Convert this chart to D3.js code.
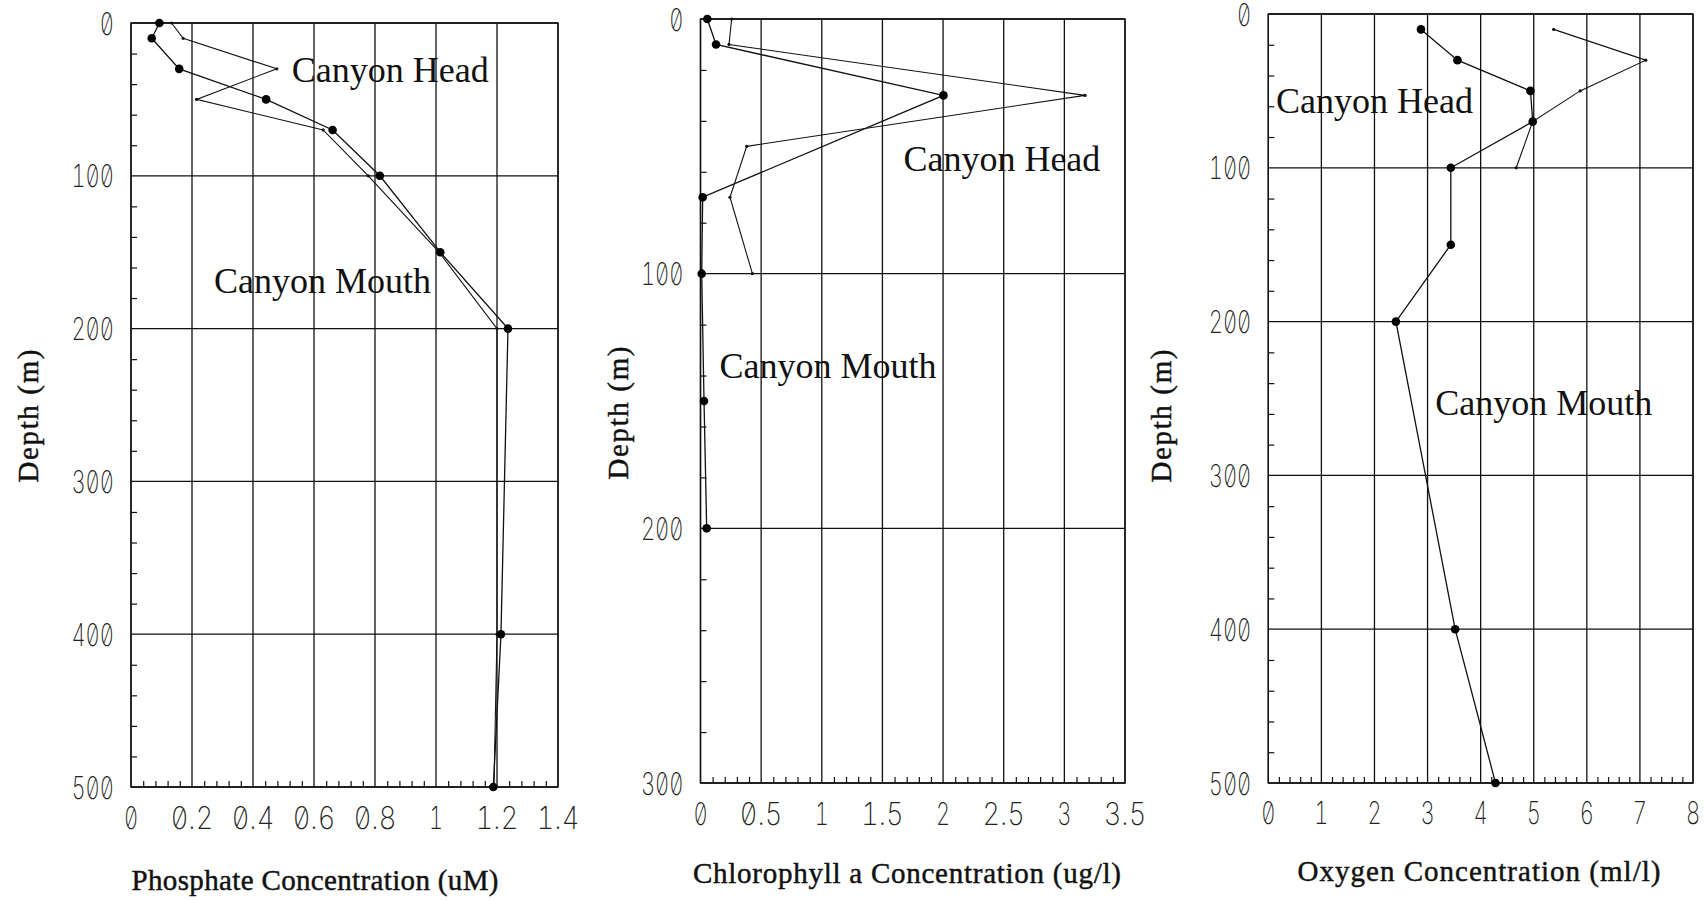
<!DOCTYPE html>
<html>
<head>
<meta charset="utf-8">
<script src="https://cdn.jsdelivr.net/npm/d3@7"></script>
<style>
  html, body { margin: 0; padding: 0; background: #fff; }
  svg { display: block; }
  .tick-label { font-family: Inter, "DejaVu Sans Mono", monospace; font-weight: 200; font-size: 31px; fill: #222;
                font-feature-settings: "zero" 1, "tnum" 1; }
  .axis-title { font-family: "Liberation Serif", "Times New Roman", serif; font-size: 29px; fill: #111;
                stroke: #111; stroke-width: 0.45px; }
  .station { font-family: "Liberation Serif", "Times New Roman", serif; font-size: 36px; fill: #111; }
</style>
</head>
<body>
<svg id="chart" width="1705" height="900"></svg>
<script>
// Phosphate profiles (uM) against depth (m)
const phosMouthDepth = [0, 10, 30, 50, 70, 100, 150, 200, 400, 500];
const phosMouth      = [0.093, 0.068, 0.158, 0.443, 0.661, 0.816, 1.014, 1.236, 1.213, 1.188];
const phosHeadDepth  = [0, 10, 30, 50, 70, 100, 150, 200, 400, 500];
const phosHead       = [0.133, 0.171, 0.478, 0.215, 0.630, 0.778, 1.010, 1.200, 1.200, 1.190];

// Chlorophyll a profiles (ug/l)
const chlMouthDepth = [0, 10, 30, 70, 100, 150, 200];
const chlMouth      = [0.056, 0.128, 2.003, 0.018, 0.010, 0.029, 0.051];
const chlHeadDepth  = [0, 10, 30, 50, 70, 100];
const chlHead       = [0.257, 0.235, 3.170, 0.381, 0.243, 0.428];

// Dissolved oxygen profiles (ml/l)
const oxyMouthDepth = [10, 30, 50, 70, 100, 150, 200, 400, 500];
const oxyMouth      = [2.876, 3.563, 4.938, 4.981, 3.438, 3.438, 2.404, 3.520, 4.280];
const oxyHeadDepth  = [10, 30, 50, 70, 100];
const oxyHead       = [5.375, 7.110, 5.875, 4.980, 4.670];

// Axis ticks
const phosTicks = [0, 0.2, 0.4, 0.6, 0.8, 1.0, 1.2, 1.4];
const chlTicks  = [0, 0.5, 1, 1.5, 2, 2.5, 3, 3.5];
const oxyTicks  = [0, 1, 2, 3, 4, 5, 6, 7, 8];
const depth500Ticks = [0, 100, 200, 300, 400, 500];
const depth300Ticks = [0, 100, 200, 300];

const titles = ["Phosphate Concentration (uM)", "Chlorophyll a Concentration (ug/l)", "Oxygen Concentration (ml/l)"];
const depthTitle = "Depth (m)";
const stationNames = ["Canyon Head", "Canyon Mouth"];

const svg = d3.select("#chart");
svg.append("rect").attr("width", 1705).attr("height", 900).attr("fill", "#fff");

const fmt = d => String(+d.toFixed(2));

const panels = [
  { xDom: [0, 1.4], xR: [131, 558], yDom: [0, 500], yR: [23, 787],
    xTicks: phosTicks, xMinor: 0.04, yTicks: depth500Ticks, yMinor: 20,
    mouth: [phosMouthDepth, phosMouth], head: [phosHeadDepth, phosHead],
    title: titles[0], titleX: 315, titleW: 367, titleY: 890, depthX: 29, depthY: 416,
    headLab: [0.527, 38.4], mouthLab: [0.272, 176.7], xLabY: 818 },
  { xDom: [0, 3.5], xR: [700.5, 1125], yDom: [0, 300], yR: [19, 783],
    xTicks: chlTicks, xMinor: 0.1, yTicks: depth300Ticks, yMinor: 20,
    mouth: [chlMouthDepth, chlMouth], head: [chlHeadDepth, chlHead],
    title: titles[1], titleX: 907, titleW: 428, titleY: 883, depthX: 619, depthY: 413,
    headLab: [1.673, 59.7], mouthLab: [0.157, 141], xLabY: 814 },
  { xDom: [0, 8], xR: [1268.3, 1693], yDom: [0, 500], yR: [14, 783],
    xTicks: oxyTicks, xMinor: 0.2, yTicks: depth500Ticks, yMinor: 20,
    mouth: [oxyMouthDepth, oxyMouth], head: [oxyHeadDepth, oxyHead],
    title: titles[2], titleX: 1479, titleW: 363, titleY: 881, depthX: 1162, depthY: 416,
    headLab: [0.144, 64.5], mouthLab: [3.144, 260.6], xLabY: 813 }
];

panels.forEach(p => {
  const x = d3.scaleLinear().domain(p.xDom).range(p.xR);
  const y = d3.scaleLinear().domain(p.yDom).range(p.yR);
  const g = svg.append("g");
  const [x0, x1] = p.xR, [y0, y1] = p.yR;

  // grid lines at major ticks
  g.selectAll(".vgrid").data(p.xTicks).join("line")
    .attr("x1", d => x(d)).attr("x2", d => x(d)).attr("y1", y0).attr("y2", y1)
    .attr("stroke", "#111").attr("stroke-width", 1.3);
  g.selectAll(".hgrid").data(p.yTicks).join("line")
    .attr("x1", x0).attr("x2", x1).attr("y1", d => y(d)).attr("y2", d => y(d))
    .attr("stroke", "#111").attr("stroke-width", 1.3);

  // minor ticks along the left and bottom axes
  const yMinor = d3.range(p.yDom[0], p.yDom[1] + 0.001, p.yMinor).filter(v => !p.yTicks.includes(v));
  g.append("g").attr("transform", `translate(${x0},0)`)
    .call(d3.axisRight(y).tickValues(yMinor).tickSize(6).tickFormat(""))
    .call(a => a.select(".domain").remove())
    .selectAll("line").attr("stroke", "#111").attr("stroke-width", 1.2);
  const xMinor = d3.range(0, Math.round((p.xDom[1] - p.xDom[0]) / p.xMinor) + 1)
    .map(i => +(i * p.xMinor).toFixed(3))
    .filter(v => !p.xTicks.some(t => Math.abs(t - v) < 1e-6));
  g.append("g").attr("transform", `translate(0,${y1})`)
    .call(d3.axisTop(x).tickValues(xMinor).tickSize(6).tickFormat(""))
    .call(a => a.select(".domain").remove())
    .selectAll("line").attr("stroke", "#111").attr("stroke-width", 1.2);

  // tick labels
  const yAx = g.append("g").attr("transform", `translate(${x0},0)`)
    .call(d3.axisLeft(y).tickValues(p.yTicks).tickSize(0).tickPadding(17).tickFormat(fmt));
  yAx.select(".domain").remove();
  yAx.selectAll("text").attr("class", "tick-label").attr("dy", "0.36em")
    .attr("textLength", d => fmt(d).length * 14.2).attr("lengthAdjust", "spacingAndGlyphs");

  g.selectAll(".xlab").data(p.xTicks).join("text")
    .attr("class", "tick-label").attr("text-anchor", "middle")
    .attr("x", d => x(d)).attr("y", p.xLabY).attr("dy", "0.36em")
    .attr("textLength", d => fmt(d).length * 14.2).attr("lengthAdjust", "spacingAndGlyphs")
    .text(fmt);

  // plot frame
  g.append("rect").attr("x", x0).attr("y", y0).attr("width", x1 - x0).attr("height", y1 - y0)
    .attr("fill", "none").attr("stroke", "#111").attr("stroke-width", 1.4);

  // profiles
  const line = d3.line().x(d => x(d[1])).y(d => y(d[0]));
  const head = p.head[0].map((d, i) => [d, p.head[1][i]]);
  const mouth = p.mouth[0].map((d, i) => [d, p.mouth[1][i]]);
  g.append("path").datum(head).attr("d", line).attr("fill", "none").attr("stroke", "#111").attr("stroke-width", 1.1);
  g.selectAll(".hpt").data(head).join("circle")
    .attr("cx", d => x(d[1])).attr("cy", d => y(d[0])).attr("r", 1.6).attr("fill", "#111");
  g.append("path").datum(mouth).attr("d", line).attr("fill", "none").attr("stroke", "#111").attr("stroke-width", 1.3);
  g.selectAll(".mpt").data(mouth).join("circle")
    .attr("cx", d => x(d[1])).attr("cy", d => y(d[0])).attr("r", 4.3).attr("fill", "#000");

  // station labels
  g.append("text").attr("class", "station").attr("x", x(p.headLab[0])).attr("y", y(p.headLab[1])).text(stationNames[0]);
  g.append("text").attr("class", "station").attr("x", x(p.mouthLab[0])).attr("y", y(p.mouthLab[1])).text(stationNames[1]);

  // axis titles
  g.append("text").attr("class", "axis-title").attr("text-anchor", "middle")
    .attr("x", p.titleX).attr("y", p.titleY)
    .attr("textLength", p.titleW).attr("lengthAdjust", "spacing").text(p.title);
  g.append("text").attr("class", "axis-title").attr("text-anchor", "middle")
    .attr("textLength", 133).attr("lengthAdjust", "spacing")
    .attr("transform", `translate(${p.depthX + 9},${p.depthY}) rotate(-90)`).text(depthTitle);
});
</script>
</body>
</html>
